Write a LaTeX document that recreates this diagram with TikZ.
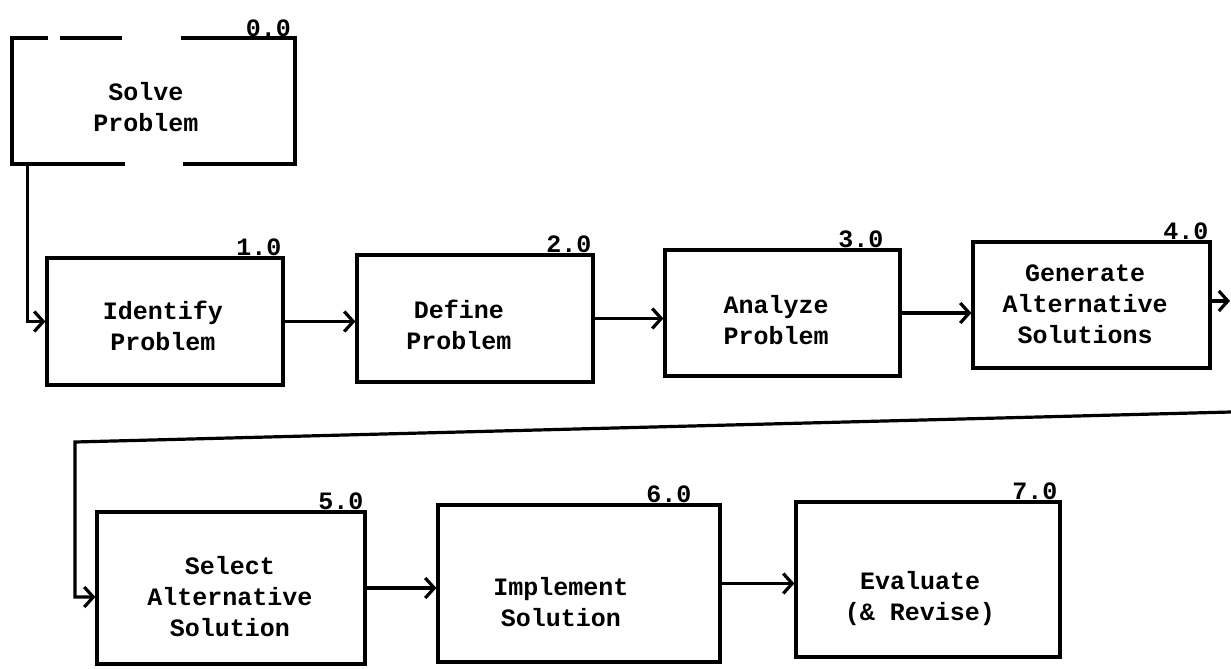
\documentclass[tikz,border=0pt]{standalone}
\usepackage{fontspec}
\newfontfamily\twfont{Liberation Mono}
\usetikzlibrary{arrows.meta,calc}
\tikzset{
  boxnode/.style={draw, line width=3.2pt, inner sep=0pt},
  txt/.style={font=\twfont\bfseries\fontsize{25}{31}\selectfont, align=center, inner sep=0pt},
  num/.style={font=\twfont\bfseries\fontsize{25}{31}\selectfont, anchor=base east, inner sep=0pt},
  arr/.style={line width=3.2pt, -{Straight Barb[length=9pt,width=20pt]}},
  plain/.style={line width=3.2pt},
}
\begin{document}
\begin{tikzpicture}[x=1pt,y=-1pt]
\useasboundingbox (0,0) rectangle (1231,669);

% box 0 (drawn with gaps)
\node[inner sep=0pt, minimum width=283pt, minimum height=126pt] (b0) at (153.5,101) {};
\draw[plain] (48,38) -- (12,38) -- (12,164) -- (125,164);
\draw[plain] (60,38) -- (122,38);
\draw[plain] (181,38) -- (295,38) -- (295,164) -- (183,164);
\node[txt] (t0) at (146,107) {Solve\\Problem};
\node[num] (n0) at ([xshift=-4pt,yshift=1pt]b0.north east) {0.0};

% boxes row 1
\node[boxnode, minimum width=236pt, minimum height=127pt] (b1) at (165,321.5) {};
\node[boxnode, minimum width=236pt, minimum height=127pt] (b2) at (475,318.5) {};
\node[boxnode, minimum width=235pt, minimum height=126pt] (b3) at (782.5,313) {};
\node[boxnode, minimum width=237pt, minimum height=126pt] (b4) at (1091.5,305) {};

\node[txt] (t1) at (163,326) {Identify\\Problem};
\node[txt] (t2) at (459,325) {Define\\Problem};
\node[txt] (t3) at (776,320) {Analyze\\Problem};
\node[txt] (t4) at (1085,304) {Generate\\Alternative\\Solutions};

\node[num] (n1) at ([xshift=-3pt,yshift=1pt]b1.north east) {1.0};
\node[num] (n2) at ([xshift=-3pt,yshift=1pt]b2.north east) {2.0};
\node[num] (n3) at ([xshift=-18pt,yshift=1pt]b3.north east) {3.0};
\node[num] (n4) at ([xshift=-3pt,yshift=1pt]b4.north east) {4.0};

% boxes row 2
\node[boxnode, minimum width=268pt, minimum height=152pt] (b5) at (231,588) {};
\node[boxnode, minimum width=282pt, minimum height=157pt] (b6) at (579,583.5) {};
\node[boxnode, minimum width=264pt, minimum height=155pt] (b7) at (928,579.5) {};

\node[txt] (t5) at (230,597) {Select\\Alternative\\Solution};
\node[txt] (t6) at (561,602) {Implement\\Solution};
\node[txt] (t7) at (920,599) {Evaluate\\(\& Revise)};

\node[num] (n5) at ([xshift=-3pt,yshift=1pt]b5.north east) {5.0};
\node[num] (n6) at ([xshift=-30pt,yshift=1pt]b6.north east) {6.0};
\node[num] (n7) at ([xshift=-4pt,yshift=1pt]b7.north east) {7.0};

% connectors
\draw[arr] (b0.south west) ++(16,0) |- (b1.west);
\draw[arr] (b1.east) -- (b1.east -| b2.west);
\draw[arr] (b2.east) -- (b2.east -| b3.west);
\draw[arr] (b3.east) -- (b3.east -| b4.west);
\coordinate (out) at (1230,301);
\draw[arr] (b4.east |- out) -- (out);
\coordinate (fbR) at (1231,412);
\coordinate (fbL) at (75,442);
\draw[arr] (fbR) -- (fbL) |- ([yshift=-9pt]b5.west);
\draw[arr] (b5.east) -- (b5.east -| b6.west);
\draw[arr] (b6.east) -- (b6.east -| b7.west);
\end{tikzpicture}
\end{document}
